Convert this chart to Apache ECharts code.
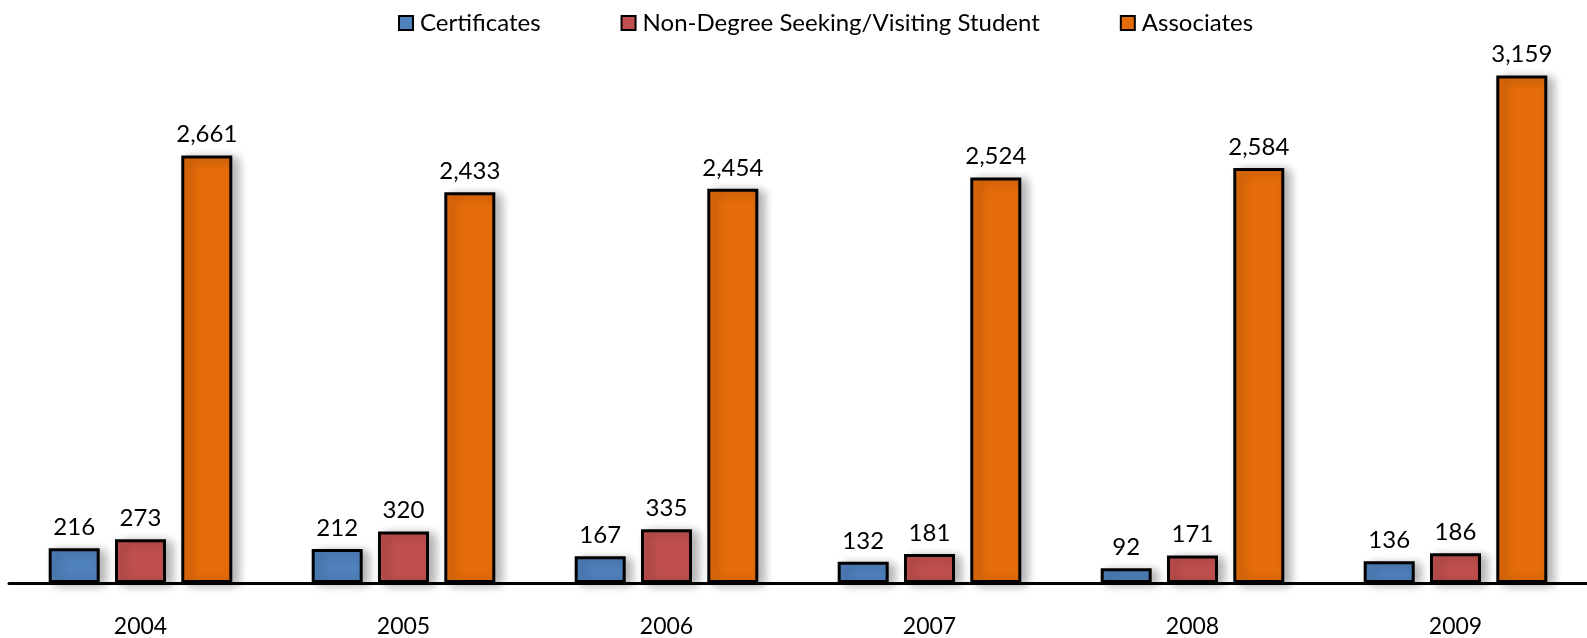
<!DOCTYPE html>
<html><head><meta charset="utf-8">
<script src="https://cdn.jsdelivr.net/npm/echarts@6/dist/echarts.min.js"></script>
<style>html,body{margin:0;padding:0;background:#fff}#c{width:1587px;height:638px}</style>
</head><body><div id="c"></div>
<script>
const years = ['2004','2005','2006','2007','2008','2009'];
const certificates = [216, 212, 167, 132, 92, 136];
const nonDegree = [273, 320, 335, 181, 171, 186];
const associates = [2661, 2433, 2454, 2524, 2584, 3159];
const seriesNames = ['Certificates', 'Non-Degree Seeking/Visiting Student', 'Associates'];
const colors = ['#4F81BD', '#C0504D', '#E46C0A'];

const fontFamily = 'Lato, "Open Sans", sans-serif';
const fmt = p => Number(p.value).toLocaleString('en-US');
function mk(name, data, color) {
  return {
    name, type: 'bar', data, barWidth: 51, barGap: '30%',
    itemStyle: { color, borderColor: '#000', borderWidth: 3,
      shadowColor: 'rgba(0,0,0,0.3)', shadowBlur: 10, shadowOffsetX: 6, shadowOffsetY: 2 },
    label: { show: true, position: 'top', distance: 9, formatter: fmt,
      color: '#000', fontSize: 24, fontFamily },
    emphasis: { disabled: true }
  };
}
const chart = echarts.init(document.getElementById('c'));
chart.setOption({
  animation: false,
  color: colors,
  legend: {
    top: 6, left: 393, itemGap: 80, itemWidth: 14, itemHeight: 14,
    icon: 'rect',
    itemStyle: { borderColor: '#000', borderWidth: 2 },
    textStyle: { fontSize: 24, fontFamily, color: '#000', padding: [0, 0, 0, 2] },
    data: seriesNames
  },
  grid: { left: 9, right: -16, top: 61, bottom: 55, containLabel: false },
  xAxis: {
    type: 'category', data: years,
    axisLine: { lineStyle: { color: '#000', width: 3 } },
    axisTick: { show: false },
    axisLabel: { fontSize: 23, fontFamily, color: '#000', margin: 32 }
  },
  yAxis: { type: 'value', min: 0, max: 3250, show: false, splitLine: { show: false } },
  series: [
    mk(seriesNames[0], certificates, colors[0]),
    mk(seriesNames[1], nonDegree, colors[1]),
    mk(seriesNames[2], associates, colors[2])
  ]
});
</script></body></html>
